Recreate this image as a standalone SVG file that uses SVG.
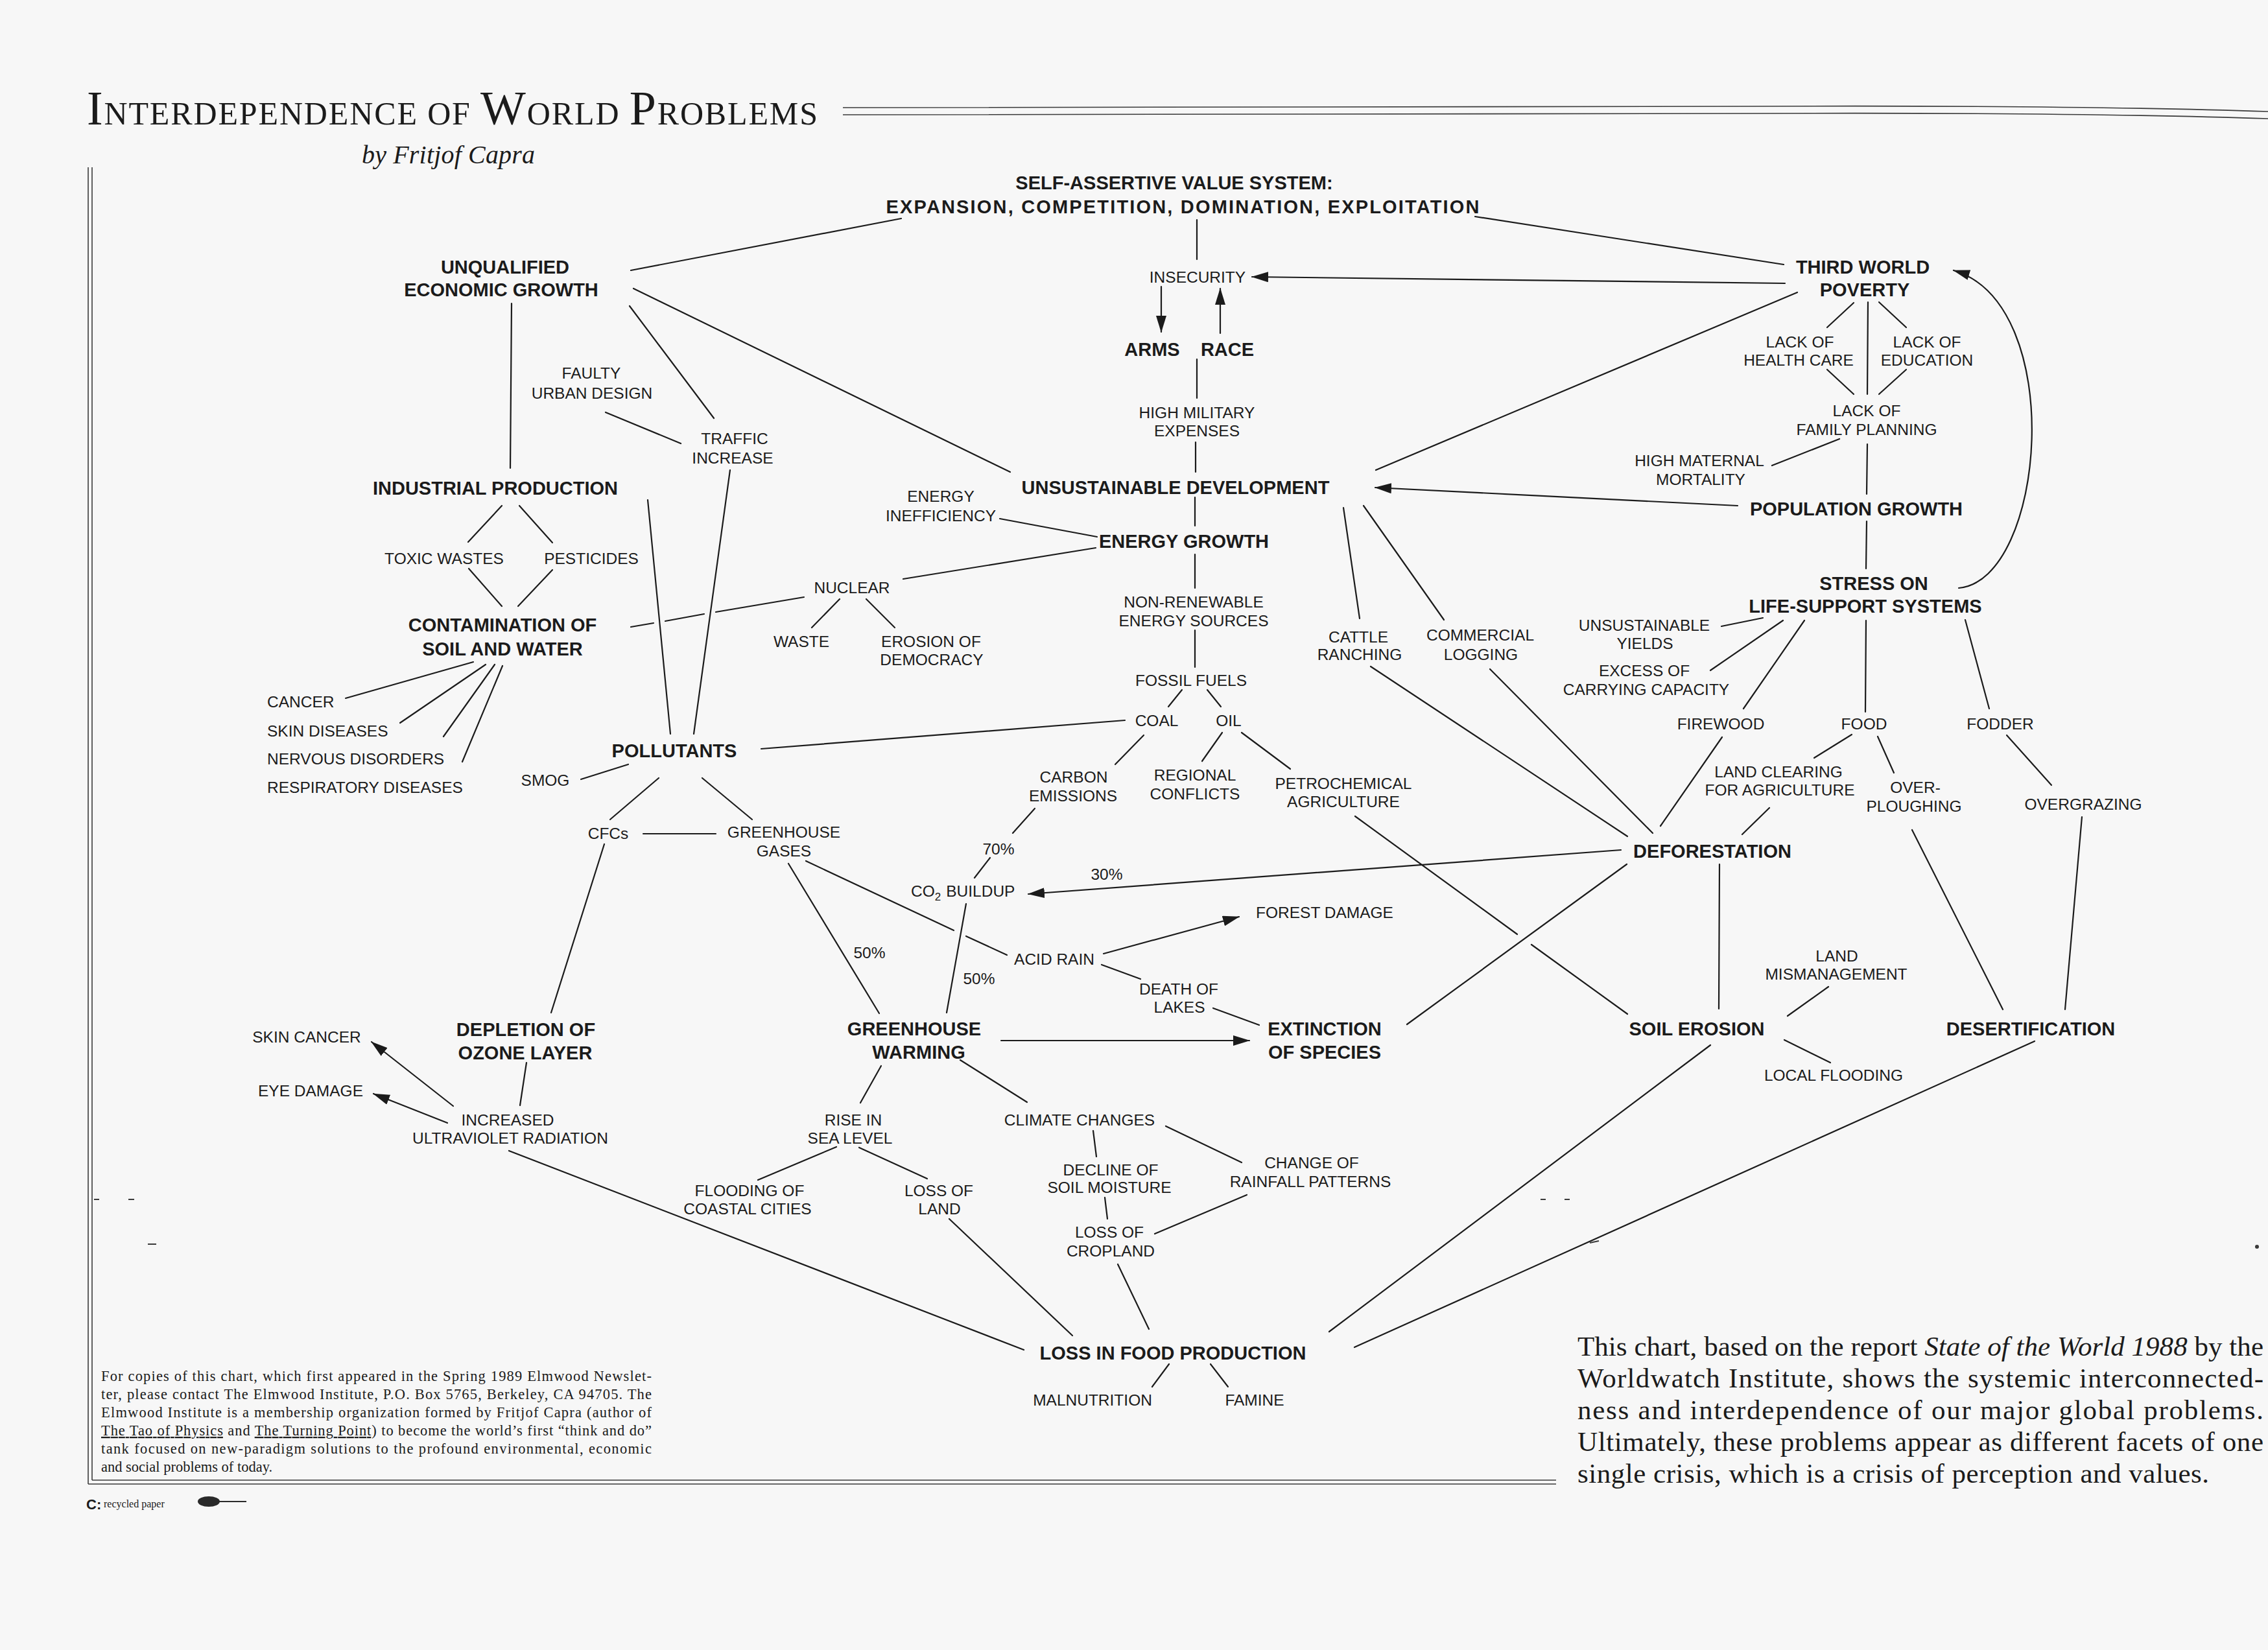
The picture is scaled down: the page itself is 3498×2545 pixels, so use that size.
<svg xmlns="http://www.w3.org/2000/svg" width="3498" height="2545" viewBox="0 0 3498 2545">
<defs>
<style>
.b{font-family:'Liberation Sans',Arial,Helvetica,sans-serif;font-weight:bold;font-size:29px;text-anchor:middle;fill:#1b1b1b}
.r{font-family:'Liberation Sans',Arial,Helvetica,sans-serif;font-size:24.5px;text-anchor:middle;fill:#1b1b1b}
.s{text-anchor:start}
.p{font-family:'Liberation Serif','Times New Roman',serif;fill:#1b1b1b}
#connectors line,#connectors path{stroke:#1b1b1b;stroke-width:2.2;fill:none;stroke-linecap:round}
.frame{stroke:#3a3a3a;fill:none;stroke-width:1.6}
</style>
<marker id="ah" viewBox="0 0 26 16" refX="25" refY="8" markerWidth="26" markerHeight="16" markerUnits="userSpaceOnUse" orient="auto"><path d="M0,0 L26,8 L0,16 Z" fill="#1b1b1b"/></marker>
</defs>
<rect width="3498" height="2545" fill="#f7f7f7"/>

<g id="title">
<text class="p" x="134" y="192" textLength="1127" lengthAdjust="spacing" font-size="50"><tspan font-size="74">I</tspan>NTERDEPENDENCE OF <tspan font-size="74">W</tspan>ORLD <tspan font-size="74">P</tspan>ROBLEMS</text>
<path class="frame" d="M1300,166 L2700,164 Q3200,162 3498,172" stroke-width="2.5"/>
<path class="frame" d="M1300,177 L2700,175 Q3200,173 3498,183" stroke-width="2.5"/>
<text class="p" x="558" y="252" font-size="40" font-style="italic" textLength="267">by Fritjof Capra</text>
</g>

<g id="frame">
<line class="frame" x1="136" y1="258" x2="136" y2="2289"/>
<line class="frame" x1="142" y1="258" x2="142" y2="2283"/>
<line class="frame" x1="136" y1="2289" x2="2400" y2="2289"/>
<line class="frame" x1="142" y1="2283" x2="2400" y2="2283"/>
</g>

<g id="marks" stroke="#3a3a3a" stroke-width="2">
<line x1="145" y1="1850" x2="153" y2="1850"/>
<line x1="198" y1="1850" x2="207" y2="1850"/>
<line x1="228" y1="1919" x2="241" y2="1919"/>
<line x1="2376" y1="1850" x2="2384" y2="1850"/>
<line x1="2413" y1="1850" x2="2421" y2="1850"/>
<line x1="2452" y1="1917" x2="2466" y2="1914"/>
<circle cx="3481" cy="1923" r="3" fill="#3a3a3a" stroke="none"/>
</g>

<g id="connectors">
<line x1="1390" y1="337" x2="973" y2="417"/>
<line x1="2275" y1="334" x2="2751" y2="408"/>
<line x1="1846" y1="339" x2="1846" y2="400"/>
<line x1="2753" y1="437" x2="1931" y2="427" marker-end="url(#ah)"/>
<line x1="1791" y1="442" x2="1791" y2="512" marker-end="url(#ah)"/>
<line x1="1882" y1="514" x2="1882" y2="445" marker-end="url(#ah)"/>
<line x1="1846" y1="554" x2="1846" y2="614"/>
<line x1="1844" y1="682" x2="1844" y2="728"/>
<line x1="977" y1="445" x2="1558" y2="728"/>
<line x1="2772" y1="451" x2="2122" y2="725"/>
<line x1="2680" y1="780" x2="2121" y2="752" marker-end="url(#ah)"/>
<line x1="1843" y1="767" x2="1843" y2="811"/>
<line x1="1542" y1="800" x2="1692" y2="828"/>
<line x1="1690" y1="845" x2="1393" y2="893"/>
<line x1="1843" y1="855" x2="1843" y2="907"/>
<line x1="1843" y1="972" x2="1843" y2="1029"/>
<line x1="1823" y1="1064" x2="1802" y2="1090"/>
<line x1="1862" y1="1064" x2="1883" y2="1090"/>
<line x1="1735" y1="1111" x2="1174" y2="1155"/>
<line x1="1764" y1="1134" x2="1720" y2="1179"/>
<line x1="1885" y1="1130" x2="1854" y2="1174"/>
<line x1="1915" y1="1130" x2="1990" y2="1186"/>
<line x1="1596" y1="1247" x2="1562" y2="1285"/>
<line x1="1527" y1="1323" x2="1503" y2="1354"/>
<line x1="2090" y1="1259" x2="2340" y2="1441"/>
<line x1="2362" y1="1457" x2="2510" y2="1564"/>
<line x1="2072" y1="783" x2="2097" y2="954"/>
<line x1="2103" y1="780" x2="2227" y2="956"/>
<line x1="2114" y1="1028" x2="2510" y2="1290"/>
<line x1="2298" y1="1032" x2="2549" y2="1285"/>
<line x1="2500" y1="1311" x2="1586" y2="1379" marker-end="url(#ah)"/>
<line x1="2509" y1="1333" x2="2170" y2="1580"/>
<line x1="2652" y1="1333" x2="2651" y2="1556"/>
<line x1="2656" y1="1137" x2="2561" y2="1274"/>
<line x1="2729" y1="1246" x2="2687" y2="1287"/>
<line x1="2856" y1="1133" x2="2798" y2="1169"/>
<line x1="2896" y1="1136" x2="2921" y2="1192"/>
<line x1="2949" y1="1280" x2="3089" y2="1557"/>
<line x1="3095" y1="1134" x2="3164" y2="1211"/>
<line x1="3211" y1="1260" x2="3185" y2="1557"/>
<line x1="2820" y1="1522" x2="2757" y2="1567"/>
<line x1="2752" y1="1604" x2="2823" y2="1639"/>
<line x1="2638" y1="1612" x2="2050" y2="2054"/>
<line x1="3138" y1="1606" x2="2089" y2="2078"/>
<line x1="2719" y1="953" x2="2655" y2="966"/>
<line x1="2750" y1="957" x2="2638" y2="1034"/>
<line x1="2783" y1="957" x2="2689" y2="1093"/>
<line x1="2878" y1="957" x2="2877" y2="1098"/>
<line x1="3031" y1="956" x2="3068" y2="1093"/>
<path d="M3021,907 C3155,895 3190,470 3013,417" marker-end="url(#ah)"/>
<line x1="2879" y1="804" x2="2878" y2="877"/>
<line x1="2880" y1="685" x2="2879" y2="762"/>
<line x1="2837" y1="677" x2="2733" y2="718"/>
<line x1="2859" y1="467" x2="2818" y2="505"/>
<line x1="2881" y1="466" x2="2880" y2="608"/>
<line x1="2898" y1="466" x2="2940" y2="505"/>
<line x1="2818" y1="570" x2="2859" y2="608"/>
<line x1="2940" y1="570" x2="2898" y2="608"/>
<line x1="789" y1="468" x2="787" y2="722"/>
<line x1="971" y1="472" x2="1101" y2="645"/>
<line x1="934" y1="636" x2="1050" y2="684"/>
<line x1="1126" y1="725" x2="1070" y2="1132"/>
<line x1="999" y1="771" x2="1034" y2="1132"/>
<line x1="774" y1="780" x2="722" y2="836"/>
<line x1="801" y1="780" x2="852" y2="837"/>
<line x1="723" y1="877" x2="774" y2="935"/>
<line x1="852" y1="879" x2="799" y2="935"/>
<line x1="973" y1="967" x2="1008" y2="961"/>
<line x1="1026" y1="958" x2="1086" y2="947"/>
<line x1="1104" y1="944" x2="1240" y2="921"/>
<line x1="1295" y1="924" x2="1252" y2="968"/>
<line x1="1336" y1="924" x2="1380" y2="968"/>
<line x1="730" y1="1021" x2="533" y2="1077"/>
<line x1="749" y1="1025" x2="617" y2="1115"/>
<line x1="763" y1="1025" x2="684" y2="1136"/>
<line x1="775" y1="1027" x2="713" y2="1175"/>
<line x1="896" y1="1202" x2="969" y2="1179"/>
<line x1="1016" y1="1200" x2="941" y2="1264"/>
<line x1="1083" y1="1200" x2="1160" y2="1264"/>
<line x1="992" y1="1286" x2="1104" y2="1286"/>
<line x1="932" y1="1302" x2="850" y2="1562"/>
<line x1="1243" y1="1328" x2="1471" y2="1435"/>
<line x1="1490" y1="1444" x2="1553" y2="1473"/>
<line x1="1216" y1="1332" x2="1356" y2="1563"/>
<line x1="1490" y1="1394" x2="1460" y2="1562"/>
<line x1="1702" y1="1471" x2="1911" y2="1414" marker-end="url(#ah)"/>
<line x1="1699" y1="1488" x2="1759" y2="1510"/>
<line x1="1871" y1="1555" x2="1942" y2="1581"/>
<line x1="1544" y1="1605" x2="1927" y2="1605" marker-end="url(#ah)"/>
<line x1="1481" y1="1635" x2="1584" y2="1700"/>
<line x1="1359" y1="1644" x2="1327" y2="1701"/>
<line x1="1798" y1="1737" x2="1915" y2="1793"/>
<line x1="1686" y1="1744" x2="1691" y2="1784"/>
<line x1="1704" y1="1847" x2="1708" y2="1880"/>
<line x1="1923" y1="1843" x2="1781" y2="1903"/>
<line x1="1724" y1="1950" x2="1772" y2="2050"/>
<line x1="1464" y1="1880" x2="1654" y2="2060"/>
<line x1="1290" y1="1769" x2="1169" y2="1820"/>
<line x1="1325" y1="1770" x2="1430" y2="1818"/>
<line x1="812" y1="1639" x2="802" y2="1705"/>
<line x1="699" y1="1706" x2="573" y2="1607" marker-end="url(#ah)"/>
<line x1="690" y1="1732" x2="576" y2="1687" marker-end="url(#ah)"/>
<line x1="785" y1="1775" x2="1579" y2="2082"/>
<line x1="1803" y1="2104" x2="1777" y2="2139"/>
<line x1="1867" y1="2104" x2="1894" y2="2139"/>
</g>

<g id="edge-labels">
<text class="r" x="1540" y="1318">70%</text>
<text class="r" x="1707" y="1357">30%</text>
<text class="r" x="1341" y="1478">50%</text>
<text class="r" x="1510" y="1518">50%</text>
</g>

<g id="n-selfassertive"><text class="b" x="1811" y="292">SELF-ASSERTIVE VALUE SYSTEM:</text><text class="b" x="1824" y="329" textLength="915" lengthAdjust="spacing">EXPANSION,  COMPETITION,  DOMINATION,  EXPLOITATION</text></g>
<g id="n-insecurity"><text class="r" x="1847" y="436">INSECURITY</text></g>
<g id="n-armsrace"><text class="b" x="1777" y="549">ARMS</text><text class="b" x="1893" y="549">RACE</text></g>
<g id="n-military"><text class="r" x="1846" y="645">HIGH MILITARY</text><text class="r" x="1846" y="673">EXPENSES</text></g>
<g id="n-unsustainable"><text class="b" x="1813" y="762">UNSUSTAINABLE DEVELOPMENT</text></g>
<g id="n-inefficiency"><text class="r" x="1451" y="774">ENERGY</text><text class="r" x="1451" y="804">INEFFICIENCY</text></g>
<g id="n-energygrowth"><text class="b" x="1826" y="845">ENERGY GROWTH</text></g>
<g id="n-nuclear"><text class="r" x="1314" y="915">NUCLEAR</text></g>
<g id="n-waste"><text class="r" x="1236" y="998">WASTE</text></g>
<g id="n-democracy"><text class="r" x="1436" y="998">EROSION OF</text><text class="r" x="1437" y="1026">DEMOCRACY</text></g>
<g id="n-nonrenewable"><text class="r" x="1841" y="937">NON-RENEWABLE</text><text class="r" x="1841" y="966">ENERGY SOURCES</text></g>
<g id="n-fossil"><text class="r" x="1837" y="1058">FOSSIL FUELS</text></g>
<g id="n-coal"><text class="r" x="1784" y="1120">COAL</text></g>
<g id="n-oil"><text class="r" x="1895" y="1120">OIL</text></g>
<g id="n-carbon"><text class="r" x="1656" y="1207">CARBON</text><text class="r" x="1655" y="1236">EMISSIONS</text></g>
<g id="n-regional"><text class="r" x="1843" y="1204">REGIONAL</text><text class="r" x="1843" y="1233">CONFLICTS</text></g>
<g id="n-petro"><text class="r" x="2072" y="1217">PETROCHEMICAL</text><text class="r" x="2072" y="1245">AGRICULTURE</text></g>
<g id="n-cattle"><text class="r" x="2095" y="991">CATTLE</text><text class="r" x="2097" y="1018">RANCHING</text></g>
<g id="n-logging"><text class="r" x="2283" y="988">COMMERCIAL</text><text class="r" x="2284" y="1018">LOGGING</text></g>
<g id="n-deforestation"><text class="b" x="2641" y="1323">DEFORESTATION</text></g>
<g id="n-co2"><text class="r s" x="1405" y="1383">CO<tspan font-size="17" dy="6">2</tspan><tspan dx="8" dy="-6">BUILDUP</tspan></text></g>
<g id="n-acidrain"><text class="r" x="1626" y="1488">ACID RAIN</text></g>
<g id="n-forest"><text class="r" x="2043" y="1416">FOREST DAMAGE</text></g>
<g id="n-lakes"><text class="r" x="1818" y="1534">DEATH OF</text><text class="r" x="1819" y="1562">LAKES</text></g>
<g id="n-extinction"><text class="b" x="2043" y="1597">EXTINCTION</text><text class="b" x="2043" y="1633">OF SPECIES</text></g>
<g id="n-warming"><text class="b" x="1410" y="1597">GREENHOUSE</text><text class="b" x="1417" y="1633">WARMING</text></g>
<g id="n-climate"><text class="r" x="1665" y="1736">CLIMATE CHANGES</text></g>
<g id="n-moisture"><text class="r" x="1713" y="1813">DECLINE OF</text><text class="r" x="1711" y="1840">SOIL MOISTURE</text></g>
<g id="n-cropland"><text class="r" x="1711" y="1909">LOSS OF</text><text class="r" x="1713" y="1938">CROPLAND</text></g>
<g id="n-rainfall"><text class="r" x="2023" y="1802">CHANGE OF</text><text class="r" x="2021" y="1831">RAINFALL PATTERNS</text></g>
<g id="n-lossland"><text class="r" x="1448" y="1845">LOSS OF</text><text class="r" x="1449" y="1873">LAND</text></g>
<g id="n-sealevel"><text class="r" x="1316" y="1736">RISE IN</text><text class="r" x="1311" y="1764">SEA LEVEL</text></g>
<g id="n-flooding"><text class="r" x="1156" y="1845">FLOODING OF</text><text class="r" x="1153" y="1873">COASTAL CITIES</text></g>
<g id="n-lossfood"><text class="b" x="1809" y="2097">LOSS IN FOOD PRODUCTION</text></g>
<g id="n-malnutrition"><text class="r" x="1685" y="2168">MALNUTRITION</text></g>
<g id="n-famine"><text class="r" x="1935" y="2168">FAMINE</text></g>
<g id="n-unqualified"><text class="b" x="779" y="422">UNQUALIFIED</text><text class="b" x="773" y="457">ECONOMIC GROWTH</text></g>
<g id="n-urban"><text class="r" x="912" y="584">FAULTY</text><text class="r" x="913" y="615">URBAN DESIGN</text></g>
<g id="n-traffic"><text class="r" x="1133" y="685">TRAFFIC</text><text class="r" x="1130" y="715">INCREASE</text></g>
<g id="n-industrial"><text class="b" x="764" y="763">INDUSTRIAL PRODUCTION</text></g>
<g id="n-toxic"><text class="r" x="685" y="870">TOXIC WASTES</text></g>
<g id="n-pesticides"><text class="r" x="912" y="870">PESTICIDES</text></g>
<g id="n-contamination"><text class="b" x="775" y="974">CONTAMINATION OF</text><text class="b" x="775" y="1011">SOIL AND WATER</text></g>
<g id="n-cancer"><text class="r s" x="412" y="1091">CANCER</text></g>
<g id="n-skindiseases"><text class="r s" x="412" y="1136">SKIN DISEASES</text></g>
<g id="n-nervous"><text class="r s" x="412" y="1179">NERVOUS DISORDERS</text></g>
<g id="n-respiratory"><text class="r s" x="412" y="1223">RESPIRATORY DISEASES</text></g>
<g id="n-pollutants"><text class="b" x="1040" y="1168">POLLUTANTS</text></g>
<g id="n-smog"><text class="r" x="841" y="1212">SMOG</text></g>
<g id="n-cfcs"><text class="r" x="938" y="1294">CFCs</text></g>
<g id="n-ghgases"><text class="r" x="1209" y="1292">GREENHOUSE</text><text class="r" x="1209" y="1321">GASES</text></g>
<g id="n-ozone"><text class="b" x="811" y="1598">DEPLETION OF</text><text class="b" x="810" y="1634">OZONE LAYER</text></g>
<g id="n-uv"><text class="r" x="783" y="1736">INCREASED</text><text class="r" x="787" y="1764">ULTRAVIOLET RADIATION</text></g>
<g id="n-skincancer"><text class="r" x="473" y="1608">SKIN CANCER</text></g>
<g id="n-eyedamage"><text class="r" x="479" y="1691">EYE DAMAGE</text></g>
<g id="n-poverty"><text class="b" x="2873" y="422">THIRD WORLD</text><text class="b" x="2876" y="457">POVERTY</text></g>
<g id="n-healthcare"><text class="r" x="2776" y="536">LACK OF</text><text class="r" x="2774" y="564">HEALTH CARE</text></g>
<g id="n-education"><text class="r" x="2972" y="536">LACK OF</text><text class="r" x="2972" y="564">EDUCATION</text></g>
<g id="n-family"><text class="r" x="2879" y="642">LACK OF</text><text class="r" x="2879" y="671">FAMILY PLANNING</text></g>
<g id="n-maternal"><text class="r" x="2621" y="719">HIGH MATERNAL</text><text class="r" x="2623" y="748">MORTALITY</text></g>
<g id="n-population"><text class="b" x="2863" y="795">POPULATION GROWTH</text></g>
<g id="n-stress"><text class="b" x="2890" y="910">STRESS ON</text><text class="b" x="2877" y="945">LIFE-SUPPORT SYSTEMS</text></g>
<g id="n-yields"><text class="r" x="2536" y="973">UNSUSTAINABLE</text><text class="r" x="2537" y="1001">YIELDS</text></g>
<g id="n-capacity"><text class="r" x="2536" y="1043">EXCESS OF</text><text class="r" x="2539" y="1072">CARRYING CAPACITY</text></g>
<g id="n-firewood"><text class="r" x="2654" y="1125">FIREWOOD</text></g>
<g id="n-food"><text class="r" x="2875" y="1125">FOOD</text></g>
<g id="n-fodder"><text class="r" x="3085" y="1125">FODDER</text></g>
<g id="n-landclearing"><text class="r" x="2743" y="1199">LAND CLEARING</text><text class="r" x="2745" y="1227">FOR AGRICULTURE</text></g>
<g id="n-overploughing"><text class="r" x="2954" y="1223">OVER-</text><text class="r" x="2952" y="1252">PLOUGHING</text></g>
<g id="n-overgrazing"><text class="r" x="3213" y="1249">OVERGRAZING</text></g>
<g id="n-soilerosion"><text class="b" x="2617" y="1597">SOIL EROSION</text></g>
<g id="n-desertification"><text class="b" x="3132" y="1597">DESERTIFICATION</text></g>
<g id="n-mismanagement"><text class="r" x="2833" y="1483">LAND</text><text class="r" x="2832" y="1511">MISMANAGEMENT</text></g>
<g id="n-localflooding"><text class="r" x="2828" y="1667">LOCAL FLOODING</text></g>

<g id="footnote" class="p" font-size="22.5">
<text x="156" y="2130" textLength="849" lengthAdjust="spacing">For copies of this chart, which first appeared in the Spring 1989 Elmwood Newslet-</text>
<text x="156" y="2158" textLength="849" lengthAdjust="spacing">ter, please contact The Elmwood Institute, P.O. Box 5765, Berkeley, CA 94705. The</text>
<text x="156" y="2186" textLength="849" lengthAdjust="spacing">Elmwood Institute is a membership organization formed by Fritjof Capra (author of</text>
<text x="156" y="2214" textLength="849" lengthAdjust="spacing"><tspan text-decoration="underline">The Tao of Physics</tspan> and <tspan text-decoration="underline">The Turning Point</tspan>) to become the world’s first “think and do”</text>
<text x="156" y="2242" textLength="849" lengthAdjust="spacing">tank focused on new-paradigm solutions to the profound environmental, economic</text>
<text x="156" y="2270">and social problems of today.</text>
</g>
<g id="recycled">
<text x="133" y="2328" font-family="'Liberation Sans',Arial,sans-serif" font-weight="bold" font-size="22" fill="#1b1b1b">C:</text>
<text class="p" x="160" y="2325" font-size="16">recycled paper</text>
<ellipse cx="322" cy="2316" rx="17" ry="8" fill="#2a2a2a"/>
<line x1="338" y1="2316" x2="380" y2="2316" stroke="#2a2a2a" stroke-width="2"/>
</g>

<g id="caption" class="p" font-size="43">
<text x="2433" y="2091" textLength="1058" lengthAdjust="spacing">This chart, based on the report <tspan font-style="italic">State of the World 1988</tspan> by the</text>
<text x="2433" y="2140" textLength="1058" lengthAdjust="spacing">Worldwatch Institute, shows the systemic interconnected-</text>
<text x="2433" y="2189" textLength="1058" lengthAdjust="spacing">ness and interdependence of our major global problems.</text>
<text x="2433" y="2238" textLength="1058" lengthAdjust="spacing">Ultimately, these problems appear as different facets of one</text>
<text x="2433" y="2287" textLength="974" lengthAdjust="spacing">single crisis, which is a crisis of perception and values.</text>
</g>
</svg>
